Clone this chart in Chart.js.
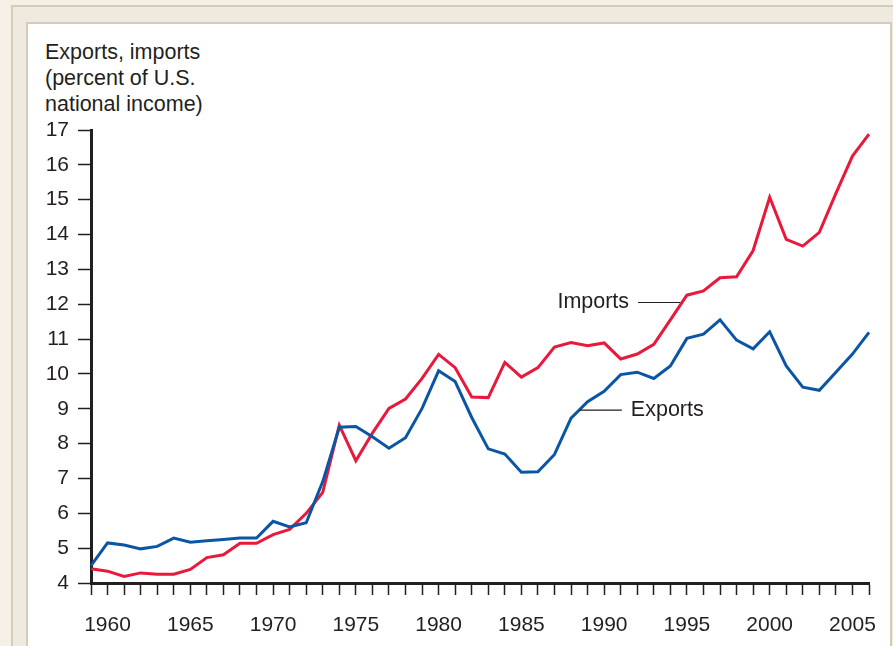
<!DOCTYPE html>
<html>
<head>
<meta charset="utf-8">
<script src="https://cdn.jsdelivr.net/npm/chart.js@4.4.1/dist/chart.umd.min.js"></script>
<style>
  html, body { margin: 0; padding: 0; background: #f4f0e6; overflow: hidden; }
  #outer {
    position: absolute; left: 11px; top: 5px; width: 900px; height: 700px;
    background: #efeadf; border-left: 2px solid #d5cbb8; border-top: 2px solid #d5cbb8;
  }
  #inner {
    position: absolute; left: 26px; top: 22px; width: 862px; height: 700px;
    background: #fff; border-left: 2px solid #d5cbb8; border-top: 2px solid #d5cbb8;
    border-right: 2px solid #d5cbb8;
  }
  #title {
    position: absolute; left: 45px; top: 39px;
    font-family: "Liberation Sans", Arial, sans-serif; font-size: 21.5px; line-height: 26px;
    color: #231f20;
  }
  canvas { position: absolute; left: 0; top: 0; }
</style>
</head>
<body>
<div id="outer"></div>
<div id="inner"></div>
<div id="title">Exports, imports<br>(percent of U.S.<br>national income)</div>
<canvas id="chart" width="893" height="646"></canvas>
<script>
// values, percent of national income
const years = [];
for (let y = 1959; y <= 2006; y++) years.push(y);

const exportsPct = [
  4.50, 5.15, 5.09, 4.98, 5.05, 5.29, 5.17, 5.21, 5.25, 5.29,
  5.29, 5.77, 5.61, 5.73, 6.91, 8.47, 8.49, 8.20, 7.87, 8.17,
  9.01, 10.09, 9.78, 8.75, 7.85, 7.70, 7.18, 7.19, 7.69, 8.73,
  9.20, 9.50, 9.98, 10.05, 9.87, 10.23, 11.02, 11.14, 11.55, 10.97,
  10.72, 11.21, 10.23, 9.62, 9.53, 10.05, 10.57, 11.19
];

const importsPct = [
  4.41, 4.34, 4.19, 4.29, 4.25, 4.25, 4.39, 4.73, 4.81, 5.14,
  5.14, 5.39, 5.54, 6.00, 6.60, 8.53, 7.51, 8.30, 9.01, 9.28,
  9.87, 10.56, 10.18, 9.34, 9.32, 10.33, 9.91, 10.18, 10.77, 10.90,
  10.81, 10.89, 10.43, 10.57, 10.85, 11.55, 12.26, 12.38, 12.76, 12.79,
  13.54, 15.07, 13.86, 13.67, 14.06, 15.18, 16.25, 16.88
];

const RED = "#e8193a";
const BLUE = "#0b56a4";
const INK = "#231f20";
const FONT = '"Liberation Sans", Arial, sans-serif';

// leader-line labels, anchored in data units (year, percent)
const callouts = [
  { text: "Imports", x0: 1992.05, x1: 1994.6, y: 12.05, side: "left" },
  { text: "Exports", x0: 1988.53, x1: 1991.07, y: 8.96, side: "right" }
];

const calloutPlugin = {
  id: "callouts",
  afterDatasetsDraw(chart) {
    const ctx = chart.ctx;
    const xs = chart.scales.x, ys = chart.scales.y;
    const px = v => xs.left + (v - 1959) / (2006 - 1959) * (xs.right - xs.left);
    ctx.save();
    ctx.strokeStyle = INK;
    ctx.lineWidth = 1.2;
    ctx.fillStyle = INK;
    ctx.font = "21.5px " + FONT;
    ctx.textBaseline = "middle";
    callouts.forEach(c => {
      const a = px(c.x0), b = px(c.x1), y = ys.getPixelForValue(c.y);
      ctx.beginPath();
      ctx.moveTo(a, y);
      ctx.lineTo(b, y);
      ctx.stroke();
      if (c.side === "left") {
        ctx.textAlign = "right";
        ctx.fillText(c.text, a - 9, y);
      } else {
        ctx.textAlign = "left";
        ctx.fillText(c.text, b + 9, y);
      }
    });
    ctx.restore();
  }
};

new Chart(document.getElementById("chart"), {
  type: "line",
  data: {
    labels: years.map(String),
    datasets: [
      { label: "Exports", data: exportsPct, borderColor: BLUE, borderWidth: 3, pointRadius: 0, tension: 0 },
      { label: "Imports", data: importsPct, borderColor: RED, borderWidth: 3, pointRadius: 0, tension: 0 }
    ]
  },
  options: {
    responsive: false,
    animation: false,
    layout: { padding: { top: 130, right: 24, left: 0, bottom: 0 } },
    plugins: { legend: { display: false }, tooltip: { enabled: false } },
    scales: {
      x: {
        type: "category",
        offset: false,
        afterFit: s => { s.height = 63; },
        border: { display: true, color: INK, width: 3 },
        grid: { display: true, drawOnChartArea: false, drawTicks: true, tickLength: 12, tickColor: INK, tickWidth: 1.5, offset: false },
        ticks: {
          autoSkip: false, maxRotation: 0, minRotation: 0, padding: 18,
          color: INK, font: { family: FONT, size: 21 },
          callback: function (v, i) { return years[i] % 5 === 0 ? String(years[i]) : ""; }
        }
      },
      y: {
        min: 4, max: 17,
        afterFit: s => { s.width = 91; },
        border: { display: true, color: INK, width: 3 },
        grid: { display: true, drawOnChartArea: false, drawTicks: true, tickLength: 13, tickColor: INK, tickWidth: 1.5 },
        ticks: { stepSize: 1, padding: 9, color: INK, font: { family: FONT, size: 21 } }
      }
    }
  },
  plugins: [calloutPlugin]
});
</script>
</body>
</html>
